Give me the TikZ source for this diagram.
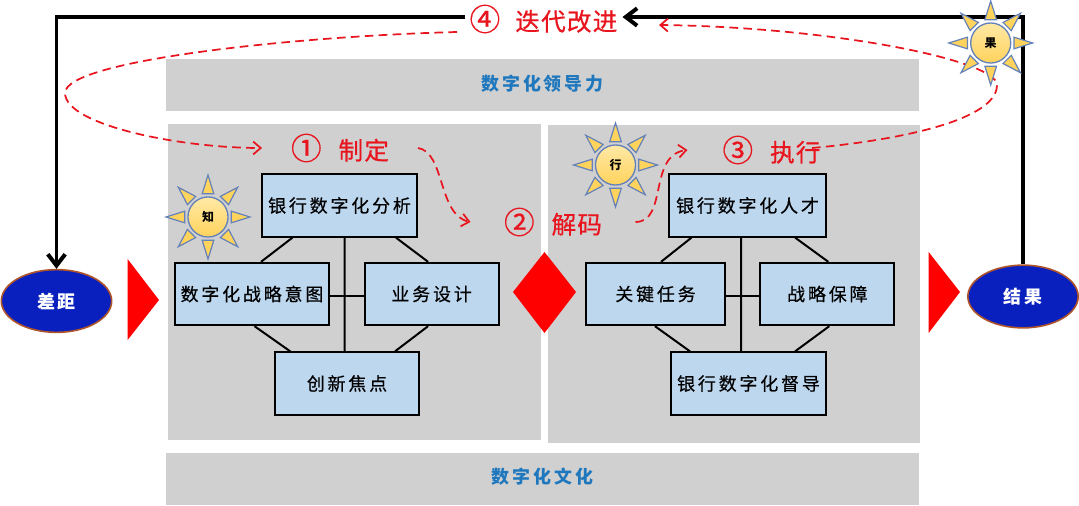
\documentclass[tikz,border=0pt]{standalone}
\usepackage{fontspec}
\usepackage{xcolor}
\usepackage{tikz}
\usetikzlibrary{arrows.meta,positioning,calc,shapes.geometric}
\setmainfont{Noto Sans CJK SC}
\newfontfamily\cjk[LetterSpace=16]{Noto Sans CJK SC}
\newfontfamily\cjkbox[LetterSpace=16,FakeBold=0.5]{Noto Sans CJK SC}
\newfontfamily\cjkred[LetterSpace=5,FakeBold=0.6]{Noto Sans CJK SC}
\definecolor{BandGray}{HTML}{D0D0D0}
\definecolor{BoxBlue}{HTML}{BDD7EE}
\definecolor{TextBlue}{HTML}{1F78BE}
\definecolor{LoopRed}{HTML}{E8141E}
\definecolor{GapBlue}{HTML}{0A20BE}
\definecolor{GapEdge}{HTML}{B0552A}
\definecolor{SunEdge}{HTML}{6482B9}
\definecolor{SunGold}{HTML}{FFD35C}
\definecolor{SunPale}{HTML}{FFE9A6}
\newcommand{\stepnum}[1]{{\fontsize{23}{24}\selectfont #1}}
\tikzset{
  bandbox/.style={fill=BandGray,minimum width=199.2mm,minimum height=13.8mm,inner sep=0pt,font=\cjk\fontsize{13.5}{15}\selectfont\bfseries,text=TextBlue},
  panelbox/.style={fill=BandGray,inner sep=0pt},
  taskbox/.style={draw=black,line width=1.5pt,fill=BoxBlue,minimum height=16.5mm,inner sep=0pt,font=\cjkbox\fontsize{13.5}{15}\selectfont},
  endbox/.style={ellipse,draw=GapEdge,line width=1.2pt,fill=GapBlue,minimum width=29.2mm,minimum height=16.6mm,inner sep=0pt,text=white,font=\cjk\fontsize{13.5}{15}\selectfont\bfseries},
  steplabel/.style={inner ysep=2pt,text=LoopRed,font=\cjkred\fontsize{18.5}{20}\selectfont},
  tasklink/.style={line width=1.5pt,draw=black},
  mainloop/.style={line width=3pt,draw=black},
  mainarrow/.style={mainloop,-{Straight Barb[length=3mm,width=4.6mm]}},
  dashloop/.style={line width=1.3pt,draw=LoopRed,dash pattern=on 6.5pt off 4pt},
  dasharrow/.style={dashloop,-{Straight Barb[length=2mm,width=3.4mm]}},
  sunball/.style={circle,draw=SunEdge,line width=1pt,top color=SunPale,bottom color=SunGold,minimum size=10.6mm,inner sep=0pt,font=\fontsize{9}{10}\selectfont\bfseries},
  sunray/.style={draw=SunEdge,line width=.9pt,fill=SunGold,line join=miter},
  bigmark/.style={fill=red}
}
\newcommand{\sunnode}[4]{%
  \node[sunball] (#1) at (#2,#3) {#4};
  \begin{scope}[shift={(#1)}]
    \foreach \a in {0,45,...,315}{
      \draw[sunray] (\a:42) -- (\a-14:24) -- (\a+14:24) -- cycle;
    }
  \end{scope}
}

\begin{document}
\begin{tikzpicture}[x=.2646mm,y=-.2646mm]
\useasboundingbox (0,0) rectangle (1079,505);
% bands and panels
\node[bandbox,text depth=1mm] (lead) at (542.5,85) {数字化领导力};
\node[bandbox,text depth=2mm] (culture) at (542.5,479) {数字化文化};
\node[panelbox,minimum width=98.7mm,minimum height=83.6mm] (panelL) at (354.5,282) {};
\node[panelbox,minimum width=98.4mm,minimum height=84.1mm] (panelR) at (734,284) {};
% left group
\node[taskbox,minimum width=41mm] (analysis) at (339.5,205.5) {银行数字化分析};
\node[taskbox,minimum width=40.7mm] (intent) at (252,294) {数字化战略意图};
\node[taskbox,minimum width=35.5mm,right=8.9mm of intent] (design) {业务设计};
\node[taskbox,minimum width=38mm] (focus) at (347,383.5) {创新焦点};
% right group
\node[taskbox,minimum width=41.5mm] (talent) at (747.5,205.5) {银行数字化人才};
\node[taskbox,minimum width=36.7mm] (keytask) at (655.5,294) {关键任务};
\node[taskbox,minimum width=35.4mm,right=8.9mm of keytask] (support) {战略保障};
\node[taskbox,minimum width=41mm] (audit) at (748.5,383.5) {银行数字化督导};
% links
\draw[tasklink] ($(analysis.south west)!.2!(analysis.south east)$)--($(intent.north west)!.558!(intent.north east)$);
\draw[tasklink] ($(analysis.south west)!.86!(analysis.south east)$)--($(design.north west)!.474!(design.north east)$);
\draw[tasklink] ($(intent.south west)!.516!(intent.south east)$)--($(focus.north west)!.11!(focus.north east)$);
\draw[tasklink] ($(design.south west)!.474!(design.south east)$)--($(focus.north west)!.83!(focus.north east)$);
\draw[tasklink] ($(analysis.south west)!.532!(analysis.south east)$)--($(focus.north west)!.483!(focus.north east)$);
\draw[tasklink] ([yshift=-1.5pt]intent.east)--([yshift=-1.5pt]design.west);
\draw[tasklink] ($(talent.south west)!.147!(talent.south east)$)--($(keytask.north west)!.539!(keytask.north east)$);
\draw[tasklink] ($(talent.south west)!.8!(talent.south east)$)--($(support.north west)!.507!(support.north east)$);
\draw[tasklink] ($(keytask.south west)!.496!(keytask.south east)$)--($(audit.north west)!.127!(audit.north east)$);
\draw[tasklink] ($(support.south west)!.514!(support.south east)$)--($(audit.north west)!.797!(audit.north east)$);
\draw[tasklink] ($(talent.south west)!.46!(talent.south east)$)--($(audit.north west)!.453!(audit.north east)$);
\draw[tasklink] ([yshift=-1.5pt]keytask.east)--([yshift=-1.5pt]support.west);
% red marks
\fill[bigmark] (127.6,259) -- (159,300) -- (127.6,340) -- cycle;
\fill[bigmark] (928.6,252) -- (960,292) -- (928.6,333) -- cycle;
\fill[bigmark] (513,292) -- (544.5,252) -- (576,292) -- (544.5,333) -- cycle;
% end points and steps
\node[endbox] (gap) at (56.5,301) {差距};
\node[endbox] (result) at (1023,296.5) {结果};
\node[steplabel,inner xsep=1.3mm] (iter) at (543.5,19) {\stepnum{④}\hspace{4mm}迭代改进};
\node[steplabel,inner xsep=7.6mm] (formulate) at (340,148) {\stepnum{①}\hspace{4.5mm}制定};
\node[steplabel,inner xsep=8.8mm] (decode) at (553,222) {\stepnum{②}\hspace{4.5mm}解码};
\node[steplabel,inner xsep=9.2mm] (execute) at (771.5,150) {\stepnum{③}\hspace{4.5mm}执行};
\coordinate (iterout) at (457,32);
\coordinate (iterin) at (659,25);
\coordinate (exeout) at (812,148);
% loop
\draw[mainarrow] (result.north) |- ([yshift=1.5pt]iter.east);
\draw[mainarrow] ([yshift=1.5pt]iter.west) -| (gap.north);
\draw[dasharrow] (iterout) .. controls (300,36) and (65,60) .. (65,93) .. controls (65,125) and (180,148) .. (formulate.west);
\draw[dasharrow] (formulate.east) .. controls (445,152) and (438,215) .. (decode.west);
\draw[dasharrow] (decode.east) .. controls (668,222) and (648,155) .. (execute.west);
\draw[dasharrow] (exeout) .. controls (900,140) and (997,120) .. (997,85) .. controls (997,60) and (830,27) .. (iterin);
% suns
\sunnode{sunknow}{208}{217}{知}
\sunnode{sundo}{615.5}{165}{行}
\sunnode{sunresult}{990.7}{43}{果}
\end{tikzpicture}
\end{document}
